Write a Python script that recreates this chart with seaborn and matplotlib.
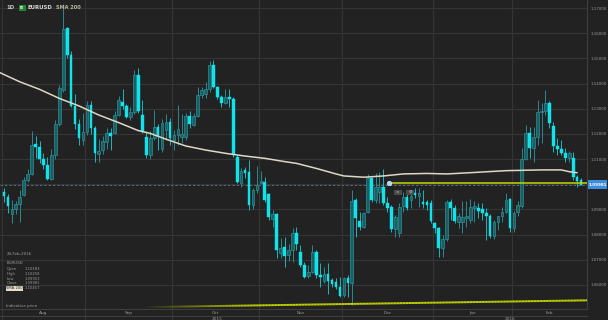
import numpy as np
import pandas as pd
import matplotlib
matplotlib.use("Agg")
import matplotlib.pyplot as plt
import matplotlib.transforms as mtransforms
from matplotlib.collections import LineCollection
from matplotlib.patches import Rectangle
from matplotlib.lines import Line2D
import seaborn as sns

# ---------------- data ----------------
open_ = [1.0968, 1.0950, 1.0880, 1.0902, 1.0922, 1.0957, 1.1017, 1.1041, 1.1160, 1.1148,
         1.1100, 1.1077, 1.1021, 1.1116, 1.1239, 1.1374, 1.1620, 1.1513, 1.1311, 1.1239,
         1.1176, 1.1208, 1.1315, 1.1223, 1.1120, 1.1136, 1.1168, 1.1204, 1.1204, 1.1275,
         1.1327, 1.1311, 1.1267, 1.1287, 1.1434, 1.1275, 1.1188, 1.1116, 1.1183, 1.1226,
         1.1140, 1.1215, 1.1249, 1.1176, 1.1195, 1.1186, 1.1186, 1.1271, 1.1236, 1.1271,
         1.1355, 1.1360, 1.1377, 1.1474, 1.1388, 1.1348, 1.1324, 1.1345, 1.1337, 1.1107,
         1.1004, 1.1057, 1.1050, 1.0918, 1.0977, 1.1005, 1.1010, 1.0961, 1.0862, 1.0882,
         1.0726, 1.0750, 1.0719, 1.0739, 1.0808, 1.0732, 1.0679, 1.0636, 1.0653, 1.0732,
         1.0640, 1.0617, 1.0644, 1.0620, 1.0610, 1.0593, 1.0560, 1.0626, 1.0609, 1.0938,
         1.0855, 1.0831, 1.0891, 1.1024, 1.0937, 1.0970, 1.0990, 1.0927, 1.0908, 1.0821,
         1.0805, 1.0914, 1.0951, 1.0938, 1.0967, 1.0953, 1.0931, 1.0931, 1.0925, 1.0845,
         1.0825, 1.0746, 1.0781, 1.0928, 1.0905, 1.0850, 1.0850, 1.0866, 1.0860, 1.0905,
         1.0905, 1.0900, 1.0885, 1.0874, 1.0795, 1.0852, 1.0872, 1.0891, 1.0940, 1.0825,
         1.0888, 1.0914, 1.1099, 1.1205, 1.1143, 1.1189, 1.1288, 1.1290, 1.1322, 1.1232,
         1.1152, 1.1139, 1.1126, 1.1103, 1.1103, 1.1028, 1.10183]
high = [1.0985, 1.0962, 1.0938, 1.0935, 1.0977, 1.1030, 1.1060, 1.1212, 1.1192, 1.1170,
        1.1125, 1.1110, 1.1140, 1.1255, 1.1395, 1.1714, 1.1625, 1.1530, 1.1360, 1.1260,
        1.1283, 1.1332, 1.1330, 1.1230, 1.1180, 1.1190, 1.1225, 1.1225, 1.1290, 1.1350,
        1.1380, 1.1320, 1.1305, 1.1455, 1.1460, 1.1335, 1.1210, 1.1210, 1.1295, 1.1240,
        1.1260, 1.1279, 1.1262, 1.1215, 1.1315, 1.1280, 1.1283, 1.1290, 1.1285, 1.1387,
        1.1387, 1.1407, 1.1491, 1.1495, 1.1390, 1.1355, 1.1377, 1.1377, 1.1348, 1.1116,
        1.1064, 1.1070, 1.1096, 1.0984, 1.1073, 1.1054, 1.1027, 1.0966, 1.0898, 1.0887,
        1.0785, 1.0789, 1.0763, 1.0825, 1.0830, 1.0759, 1.0693, 1.0680, 1.0759, 1.0739,
        1.0686, 1.0673, 1.0686, 1.0626, 1.0626, 1.0630, 1.0633, 1.0640, 1.0978, 1.0944,
        1.0891, 1.0891, 1.1041, 1.1030, 1.1044, 1.1050, 1.1060, 1.0951, 1.0918, 1.0878,
        1.0925, 1.0971, 1.0962, 1.0975, 1.0984, 1.0984, 1.0977, 1.0938, 1.0938, 1.0851,
        1.0832, 1.0798, 1.0938, 1.0940, 1.0918, 1.0885, 1.0935, 1.0935, 1.0940, 1.0935,
        1.0925, 1.0925, 1.0905, 1.0880, 1.0857, 1.0875, 1.0910, 1.0964, 1.0944, 1.0895,
        1.0935, 1.1143, 1.1236, 1.1229, 1.1229, 1.1335, 1.1322, 1.1375, 1.1330, 1.1249,
        1.1182, 1.1176, 1.1143, 1.1134, 1.1129, 1.1037, 1.10258]
low = [1.0930, 1.0886, 1.0846, 1.0880, 1.0850, 1.0955, 1.1010, 1.1037, 1.1104, 1.1085,
       1.1062, 1.1018, 1.1016, 1.1100, 1.1230, 1.1365, 1.1500, 1.1305, 1.1220, 1.1156,
       1.1156, 1.1195, 1.1200, 1.1087, 1.1087, 1.1120, 1.1140, 1.1135, 1.1200, 1.1270,
       1.1300, 1.1262, 1.1255, 1.1280, 1.1285, 1.1205, 1.1105, 1.1100, 1.1176, 1.1135,
       1.1130, 1.1176, 1.1156, 1.1136, 1.1156, 1.1163, 1.1176, 1.1225, 1.1232, 1.1268,
       1.1341, 1.1341, 1.1368, 1.1381, 1.1337, 1.1308, 1.1319, 1.1308, 1.1110, 1.1004,
       1.0990, 1.1024, 1.0898, 1.0900, 1.0967, 1.1001, 1.0931, 1.0858, 1.0832, 1.0706,
       1.0706, 1.0673, 1.0697, 1.0693, 1.0740, 1.0673, 1.0626, 1.0626, 1.0646, 1.0626,
       1.0591, 1.0606, 1.0566, 1.0593, 1.0586, 1.0553, 1.0553, 1.0553, 1.0520, 1.0792,
       1.0818, 1.0825, 1.0884, 1.0930, 1.0924, 1.0927, 1.0918, 1.0891, 1.0812, 1.0789,
       1.0789, 1.0891, 1.0898, 1.0905, 1.0945, 1.0911, 1.0905, 1.0898, 1.0845, 1.0805,
       1.0710, 1.0712, 1.0775, 1.0860, 1.0845, 1.0825, 1.0805, 1.0830, 1.0845, 1.0852,
       1.0865, 1.0858, 1.0779, 1.0785, 1.0782, 1.0818, 1.0851, 1.0885, 1.0812, 1.0812,
       1.0872, 1.0905, 1.1096, 1.1103, 1.1090, 1.1156, 1.1163, 1.1275, 1.1222, 1.1130,
       1.1116, 1.1116, 1.1090, 1.1090, 1.1017, 1.0988, 1.09953]
close = [1.0952, 1.0914, 1.0902, 1.0922, 1.0950, 1.1017, 1.1041, 1.1156, 1.1148, 1.1100,
         1.1077, 1.1021, 1.1118, 1.1239, 1.1382, 1.1617, 1.1513, 1.1311, 1.1239, 1.1184,
         1.1208, 1.1315, 1.1223, 1.1124, 1.1132, 1.1172, 1.1204, 1.1190, 1.1275, 1.1335,
         1.1311, 1.1267, 1.1287, 1.1434, 1.1291, 1.1212, 1.1116, 1.1184, 1.1226, 1.1190,
         1.1242, 1.1249, 1.1182, 1.1195, 1.1218, 1.1200, 1.1271, 1.1240, 1.1271, 1.1355,
         1.1374, 1.1377, 1.1474, 1.1388, 1.1345, 1.1324, 1.1345, 1.1340, 1.1116, 1.1010,
         1.1054, 1.1046, 1.0918, 1.0977, 1.0997, 1.1014, 1.0937, 1.0871, 1.0882, 1.0739,
         1.0745, 1.0715, 1.0739, 1.0808, 1.0763, 1.0679, 1.0633, 1.0653, 1.0732, 1.0640,
         1.0630, 1.0644, 1.0617, 1.0604, 1.0593, 1.0556, 1.0626, 1.0609, 1.0935, 1.0865,
         1.0831, 1.0887, 1.1024, 1.0937, 1.0990, 1.0990, 1.0925, 1.0904, 1.0821, 1.0871,
         1.0911, 1.0951, 1.0906, 1.0953, 1.0958, 1.0964, 1.0922, 1.0918, 1.0853, 1.0825,
         1.0746, 1.0781, 1.0931, 1.0905, 1.0856, 1.0875, 1.0871, 1.0874, 1.0911, 1.0915,
         1.0892, 1.0885, 1.0874, 1.0795, 1.0852, 1.0872, 1.0891, 1.0938, 1.0825, 1.0885,
         1.0918, 1.1099, 1.1205, 1.1143, 1.1189, 1.1288, 1.1292, 1.1322, 1.1242, 1.1150,
         1.1139, 1.1123, 1.1103, 1.1126, 1.1028, 1.1014, 1.09981]

# SMA 200 (candle index, value)
sma_idx = [-1, 4, 9, 14, 19, 24, 29, 34, 37, 41, 46, 51, 56, 61, 66, 71, 74, 79, 84,
           86, 91, 96, 101, 107, 112, 118, 127, 136, 141, 143, 145]
sma_val = [1.1443, 1.1407, 1.1377, 1.1341, 1.1311, 1.1275, 1.1245, 1.1213, 1.1202,
           1.1179, 1.1152, 1.1136, 1.1123, 1.1112, 1.1103, 1.1090, 1.1083, 1.1063,
           1.1041, 1.1033, 1.1028, 1.1033, 1.1041, 1.1043, 1.1041, 1.1046, 1.1054,
           1.1057, 1.1057, 1.1050, 1.10457]

month_names = ["Aug", "Sep", "Oct", "Nov", "Dec", "Jan", "Feb"]
month_start = [0, 21, 43, 65, 86, 109, 129]
year_names = ["2015", "2016"]
year_start = [0, 109]
price_ticks = [1.06, 1.07, 1.08, 1.09, 1.10, 1.11, 1.12, 1.13, 1.14, 1.15, 1.16, 1.17]

trend_idx = [35, 147.5]
trend_val = [1.0512, 1.0539]
hline_idx = 97.5
hline_val = 1.1004

info_date = "24-Feb-2016"
info_symbol = "EURUSD"
info_labels = ["Open", "High", "Low", "Close", "SMA 200"]
info_values = ["1.10183", "1.10258", "1.09953", "1.09981", "1.10457"]
last_price = "1.09981"

# ---------------- style ----------------
BG = "#222222"
GRID = "#353535"
UP_FILL = "#1b5f64"
UP_EDGE = "#2b8f95"
DN_FILL = "#11e3ec"
WICK_UP = "#2a8a90"
WICK_DN = "#1fb5bd"

sns.set_theme(style="dark", rc={"axes.facecolor": BG, "figure.facecolor": BG,
                                "savefig.facecolor": BG})
plt.rcParams["font.family"] = ["DejaVu Sans"]

W, H = 608, 320
fig = plt.figure(figsize=(W / 100, H / 100), dpi=100)
ax = fig.add_axes([0, 1 - 309 / H, 587 / W, 309 / H])
ax.set_facecolor(BG)

df = pd.DataFrame({"o": open_, "h": high, "l": low, "c": close})
df["i"] = np.arange(len(df))
df["up"] = df["c"] >= df["o"]

# grid
for p in price_ticks:
    ax.axhline(p, color=GRID, lw=0.8, zorder=0)
for s in month_start:
    ax.axvline(s - 0.5, color=GRID, lw=0.8, zorder=0)

# current-price dashed line
ax.axhline(close[-1], color="#4f6f86", lw=0.7, ls=(0, (2.5, 2)), zorder=1)

# candles
up = df[df["up"]]
dn = df[~df["up"]]
ax.vlines(up["i"], up["l"], up["h"], color=WICK_UP, lw=0.7, zorder=2)
ax.vlines(dn["i"], dn["l"], dn["h"], color=WICK_DN, lw=0.7, zorder=2)
ax.bar(up["i"], np.maximum(up["c"] - up["o"], 0.00012), bottom=up["o"], width=0.68,
       color=UP_FILL, edgecolor=UP_EDGE, linewidth=0.5, zorder=3)
ax.bar(dn["i"], np.maximum(dn["o"] - dn["c"], 0.00012), bottom=dn["c"], width=0.68,
       color=DN_FILL, edgecolor=DN_FILL, linewidth=0.3, zorder=3)

# SMA 200
sns.lineplot(x=sma_idx, y=sma_val, ax=ax, color="#dcd8c6", lw=1.1, zorder=5,
             estimator=None, sort=False)

# fading yellow trend line
tx = np.linspace(trend_idx[0], trend_idx[1], 300)
ty = np.interp(tx, trend_idx, trend_val)
pts = np.column_stack([tx, ty]).reshape(-1, 1, 2)
segs = np.concatenate([pts[:-1], pts[1:]], axis=1)
alphas = np.clip((tx[:-1] - trend_idx[0]) / 28.0, 0, 1)
cols = np.zeros((len(segs), 4))
cols[:, 0:3] = matplotlib.colors.to_rgb("#c4d600")
cols[:, 3] = alphas
ax.add_collection(LineCollection(segs, colors=cols, linewidths=1.4, zorder=6))

# horizontal yellow line with anchor dot
ax.plot([hline_idx, 147.5], [hline_val, hline_val], color="#c4d600", lw=1.1, zorder=6)
ax.plot([hline_idx], [hline_val], "o", ms=3.2, color="#a9d4f5", mec="#d8ecfb", mew=0.5, zorder=7)

ax.set_xlim(-1.0, 147.5)
ax.set_ylim(1.05046, 1.17318)

# axis styling
ax.yaxis.tick_right()
ax.set_yticks(price_ticks)
ax.set_yticklabels(["" if abs(p - 1.10) < 1e-9 else f"{p:.5f}" for p in price_ticks])
ax.tick_params(axis="y", length=0, pad=2.4, labelsize=2.9, labelcolor="#9c9c9c")
ax.set_xticks([])
ax.set_xlabel("")
ax.set_ylabel("")
for side in ["top", "left"]:
    ax.spines[side].set_visible(False)
ax.spines["right"].set_color("#3e3e3e")
ax.spines["right"].set_linewidth(0.8)
ax.spines["bottom"].set_color("#3e3e3e")
ax.spines["bottom"].set_linewidth(0.8)

# x label rows (below the plot)
trans = mtransforms.blended_transform_factory(ax.transData, ax.transAxes)
ax_h = 309.0
for s in month_start:
    ax.plot([s - 0.5, s - 0.5], [0, -11 / ax_h], transform=trans, color=GRID,
            lw=0.8, clip_on=False)
bounds = month_start + [147.5]
for k, name in enumerate(month_names):
    xc = (bounds[k] - 0.5 + bounds[k + 1] - 0.5) / 2 if k < len(month_names) - 1 else (bounds[k] - 0.5 + 147.5) / 2
    ax.text(xc, -3.6 / ax_h, name, transform=trans, ha="center", va="center",
            fontsize=3.1, color="#9a9a9a", clip_on=False)
ybounds = year_start + [147.5 + 0.5]
for k, name in enumerate(year_names):
    xc = (ybounds[k] - 0.5 + ybounds[k + 1] - 0.5) / 2
    ax.text(xc, -9.6 / ax_h, name, transform=trans, ha="center", va="center",
            fontsize=3.1, color="#9a9a9a", clip_on=False)
fig.add_artist(Line2D([0, 587 / W], [1 - 316 / H, 1 - 316 / H], color="#3e3e3e", lw=0.8))


def ftext(x, y, s, **kw):
    fig.text(x / W, 1 - y / H, s, va="center", **kw)


def frect(x, y, w, h, **kw):
    fig.add_artist(Rectangle((x / W, 1 - (y + h) / H), w / W, h / H,
                             transform=fig.transFigure, **kw))


# header
ftext(6, 7.6, "1D", fontsize=3.8, color="#c8c8c8", fontweight="bold")
frect(18.5, 4.6, 7, 6.6, color="#1c8a2c", lw=0)
ftext(22, 7.9, "FX", fontsize=2.1, color="white", fontweight="bold", ha="center")
ftext(27, 7.6, "EURUSD", fontsize=3.9, color="#d8d8d8", fontweight="bold")
ftext(56, 7.6, "SMA 200", fontsize=3.6, color="#bdb8a6", fontweight="bold")

# info panel
ftext(6.5, 254.3, info_date, fontsize=2.9, color="#a0a0a0")
ftext(6.5, 263, info_symbol, fontsize=2.9, color="#a0a0a0")
rows_y = [269, 274, 278.7, 283.3, 288.3]
for lab, val, yy in zip(info_labels, info_values, rows_y):
    if lab == "SMA 200":
        frect(5.8, yy - 2.4, 16.8, 4.8, color="#e4e0cc", lw=0)
        ftext(6.5, yy, lab, fontsize=2.7, color="#2a2a2a")
    else:
        ftext(6.5, yy, lab, fontsize=2.7, color="#9a9a9a")
    ftext(24.3, yy, val, fontsize=2.7, color="#9a9a9a")
ftext(6.5, 306.5, "Indicative price", fontsize=2.9, color="#a0a0a0")

# price tag
frect(587.5, 180, 19.8, 9, color="#3a8edb", lw=0)
ftext(597.4, 184.6, last_price, fontsize=2.9, color="white", fontweight="bold", ha="center")

# drawing-tool icons
frect(393.5, 189.8, 8, 5, color="#4a4a4a", lw=0)
ftext(397.5, 192.3, "×", fontsize=3.0, color="#d0d0d0", ha="center")
frect(405.8, 189.8, 8.5, 5, color="#4a4a4a", lw=0)
ftext(410, 192.3, "⚙", fontsize=3.0, color="#d0d0d0", ha="center")

fig.savefig("out.png", dpi=100, facecolor=BG)
